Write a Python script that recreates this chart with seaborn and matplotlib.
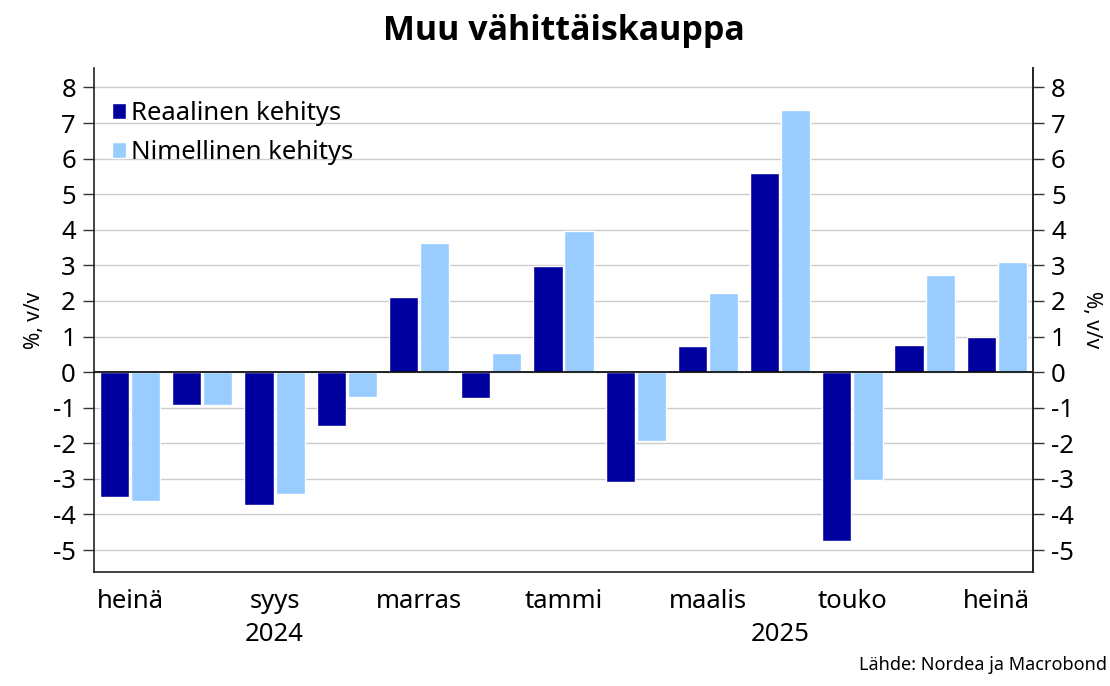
import matplotlib
matplotlib.use("Agg")
import matplotlib.pyplot as plt
import matplotlib.transforms as mtransforms
import numpy as np
import pandas as pd
import seaborn as sns

months = ["heinä", "elo", "syys", "loka", "marras", "joulu", "tammi",
          "helmi", "maalis", "huhti", "touko", "kesä", "heinä "]
reaalinen = [-3.5, -0.93, -3.72, -1.5, 2.11, -0.74, 2.98,
             -3.08, 0.73, 5.6, -4.75, 0.77, 0.99]
nimellinen = [-3.62, -0.92, -3.43, -0.7, 3.63, 0.54, 3.96,
              -1.94, 2.23, 7.38, -3.03, 2.72, 3.09]
series_names = ["Reaalinen kehitys", "Nimellinen kehitys"]
shown_ticks = ["heinä", "syys", "marras", "tammi", "maalis", "touko", "heinä "]
years = [("2024", "syys"), ("2025", "huhti")]

DARK = "#00009E"
LIGHT = "#99CCFF"

sns.set_style("white")
plt.rcParams["font.family"] = ["Noto Sans", "DejaVu Sans"]
plt.rcParams["text.color"] = "black"
plt.rcParams["xtick.color"] = "black"
plt.rcParams["ytick.color"] = "black"
plt.rcParams["axes.labelcolor"] = "black"

df = pd.DataFrame({
    "kk": months * 2,
    "arvo": reaalinen + nimellinen,
    "sarja": [series_names[0]] * len(months) + [series_names[1]] * len(months),
})

fig = plt.figure(figsize=(11.1, 6.86), dpi=100)
ax = fig.add_axes([0.0847, 0.166, 0.8459, 0.735])

sns.barplot(data=df, x="kk", y="arvo", hue="sarja", order=months,
            hue_order=series_names, palette=[DARK, LIGHT],
            width=0.86, gap=0.06, saturation=1, ax=ax, legend=True)

ax.set_ylim(-5.62, 8.55)
ax.set_xlim(-0.5, len(months) - 0.5)
ax.set_yticks(range(-5, 9))
ax.set_yticklabels([str(v) for v in range(-5, 9)], fontsize=18.5)
ax.yaxis.grid(True, color="#cccccc", lw=1)
ax.set_axisbelow(True)
ax.axhline(0, color="black", lw=1.2, zorder=3)

# month ticks: labels on every other month, tick marks at boundaries
pos = [months.index(m) for m in shown_ticks]
ax.set_xticks(pos)
ax.set_xticklabels([m.strip() for m in shown_ticks], fontsize=18.5)
ax.tick_params(axis="x", length=0, pad=12)
ax.set_xticks(np.arange(-0.5, len(months), 1.0), minor=True)
ax.tick_params(axis="x", which="minor", length=6, width=1, color="#333333")

ax.tick_params(axis="y", length=8, width=1, color="#333333", pad=5)
ax.set_xlabel("")
ax.set_ylabel("%, v/v", fontsize=15, labelpad=6)

for side in ["left", "right", "bottom"]:
    ax.spines[side].set_visible(True)
    ax.spines[side].set_color("#222222")
    ax.spines[side].set_linewidth(1.2)
ax.spines["top"].set_visible(False)

ax2 = ax.twinx()
ax2.set_ylim(ax.get_ylim())
ax2.set_yticks(range(-5, 9))
ax2.set_yticklabels([str(v) for v in range(-5, 9)], fontsize=18.5)
ax2.tick_params(axis="y", length=8, width=1, color="#333333", pad=5)
ax2.set_ylabel("%, v/v", fontsize=15, rotation=270, labelpad=20)
for side in ["top", "left", "bottom"]:
    ax2.spines[side].set_visible(False)
ax2.spines["right"].set_color("#222222")
ax2.spines["right"].set_linewidth(1.2)

trans = mtransforms.blended_transform_factory(ax.transData, ax.transAxes)
for year, m in years:
    ax.text(months.index(m), -0.123, year, transform=trans, ha="center",
            va="center", fontsize=18.5)

leg = ax.legend(loc="upper left", frameon=False, fontsize=18.5,
                handlelength=0.55, handleheight=0.55, handletextpad=0.2,
                labelspacing=0.55, borderaxespad=0,
                bbox_to_anchor=(0.008, 0.955))

fig.text(0.508, 0.955, "Muu vähittäiskauppa", ha="center", va="center",
         fontsize=24.5, fontweight="bold", family=["Open Sans", "DejaVu Sans"])
fig.text(0.997, 0.018, "Lähde: Nordea ja Macrobond", ha="right",
         va="bottom", fontsize=13)

fig.savefig("out.png", dpi=100)
